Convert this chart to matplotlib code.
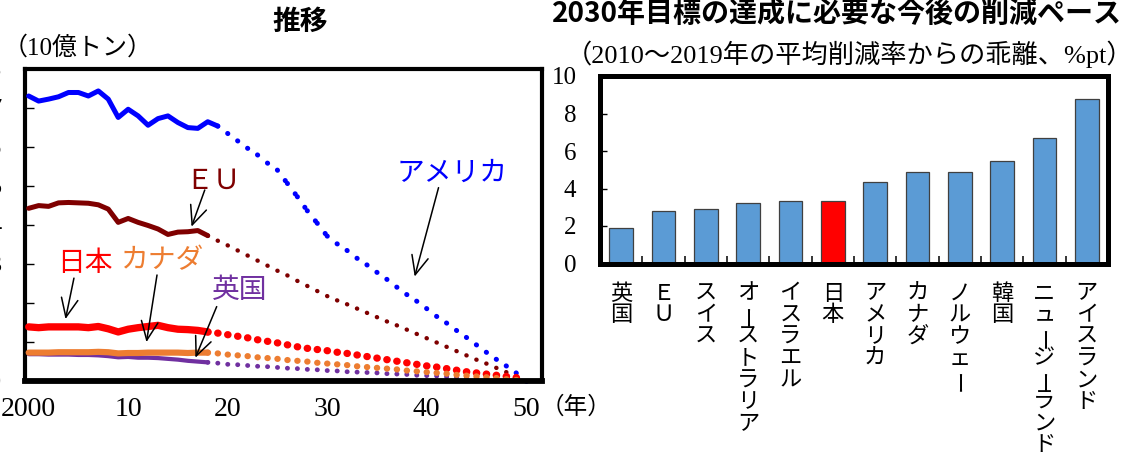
import matplotlib
matplotlib.use("Agg")
import matplotlib.pyplot as plt
from matplotlib import transforms

DPI = 100
JP = ["Noto Sans CJK JP", "DejaVu Sans"]
SERIF_JP = ["Liberation Serif", "Noto Sans CJK JP", "DejaVu Sans"]
plt.rcParams["font.family"] = SERIF_JP

# ---------------- emissions (10億トン) ----------------
hist_years_us = list(range(2000, 2020))
hist_years = list(range(2000, 2019))
proj_years_us = list(range(2019, 2051))
proj_years = list(range(2018, 2051))

us_hist = [7.30, 7.17, 7.22, 7.28, 7.39, 7.39, 7.30, 7.43, 7.22, 6.75,
           6.96, 6.79, 6.55, 6.72, 6.79, 6.62, 6.49, 6.47, 6.64, 6.53]
eu_hist = [4.42, 4.49, 4.47, 4.56, 4.57, 4.56, 4.55, 4.51, 4.40, 4.06,
           4.16, 4.06, 3.98, 3.89, 3.75, 3.81, 3.82, 3.85, 3.72]
jp_hist = [1.38, 1.36, 1.38, 1.38, 1.38, 1.38, 1.36, 1.39, 1.33, 1.25,
           1.32, 1.36, 1.39, 1.42, 1.36, 1.32, 1.31, 1.29, 1.25]
ca_hist = [0.72, 0.72, 0.72, 0.73, 0.73, 0.73, 0.73, 0.74, 0.73, 0.70,
           0.71, 0.71, 0.72, 0.72, 0.72, 0.72, 0.71, 0.72, 0.72]
uk_hist = [0.68, 0.68, 0.67, 0.67, 0.67, 0.66, 0.66, 0.65, 0.63, 0.60,
           0.61, 0.59, 0.59, 0.58, 0.56, 0.54, 0.51, 0.49, 0.47]

us_proj = [6.53, 6.34, 6.15, 5.96, 5.79, 5.58, 5.40, 5.06, 4.72, 4.36,
           4.04, 3.71, 3.51, 3.34, 3.14, 2.97, 2.78, 2.60, 2.40, 2.21,
           2.04, 1.85, 1.65, 1.48, 1.29, 1.11, 0.92, 0.73, 0.55, 0.38,
           0.20, 0.00]
eu_proj = [3.72, 3.59, 3.47, 3.34, 3.21, 3.08, 2.95, 2.82, 2.70, 2.56,
           2.43, 2.30, 2.17, 2.06, 1.96, 1.85, 1.74, 1.63, 1.52, 1.42,
           1.31, 1.20, 1.09, 0.98, 0.87, 0.76, 0.65, 0.54, 0.44, 0.33,
           0.22, 0.12, 0.00]
jp_proj = [1.25, 1.22, 1.18, 1.14, 1.10, 1.05, 1.01, 0.97, 0.92, 0.87,
           0.83, 0.80, 0.77, 0.73, 0.70, 0.66, 0.62, 0.58, 0.54, 0.50,
           0.46, 0.42, 0.38, 0.35, 0.31, 0.27, 0.23, 0.20, 0.17, 0.14,
           0.11, 0.08, 0.00]
ca_proj = [0.72, 0.70, 0.67, 0.65, 0.63, 0.60, 0.58, 0.56, 0.53, 0.51,
           0.49, 0.46, 0.44, 0.42, 0.40, 0.37, 0.35, 0.33, 0.31, 0.29,
           0.26, 0.24, 0.22, 0.20, 0.18, 0.15, 0.13, 0.11, 0.09, 0.07,
           0.04, 0.02, 0.00]
uk_proj = [0.47, 0.45, 0.42, 0.41, 0.39, 0.37, 0.36, 0.34, 0.32, 0.31,
           0.29, 0.28, 0.26, 0.25, 0.23, 0.22, 0.21, 0.20, 0.18, 0.17,
           0.16, 0.14, 0.13, 0.12, 0.10, 0.09, 0.08, 0.06, 0.05, 0.04,
           0.03, 0.01, 0.00]

x_ticks = [2000, 2010, 2020, 2030, 2040, 2050]
x_tick_labels = ["2000", "10", "20", "30", "40", "50"]
y_ticks_left = list(range(0, 9))

# ---------------- required pace (%pt) ----------------
countries = ["英国", "ＥＵ", "スイス", "オーストラリア", "イスラエル", "日本",
             "アメリカ", "カナダ", "ノルウェー", "韓国", "ニュージーランド",
             "アイスランド"]
pace = [1.88, 2.82, 2.91, 3.24, 3.33, 3.33, 4.33, 4.86, 4.88, 5.48, 6.68, 8.77]
y_ticks_right = [0, 2, 4, 6, 8, 10]

C_US, C_EU, C_JP, C_CA, C_UK = "#0000FF", "#7F0000", "#FF0000", "#ED7D31", "#7030A0"
C_BAR, C_BAR_JP = "#5B9BD5", "#FF0000"

W, H = 1122, 459
fig = plt.figure(figsize=(W / DPI, H / DPI), dpi=DPI)


def px_to_pt(px):
    return px * 72.0 / DPI


def dotted(ax, xs, ys, color, dot_px, step_px, z):
    """Round-dot projection drawn segment by segment (pattern restarts each year)."""
    lw = px_to_pt(dot_px)
    on = 0.05
    off = step_px / dot_px - on
    for i in range(len(xs) - 1):
        ax.plot(xs[i:i + 2], ys[i:i + 2], color=color, lw=lw,
                linestyle=(0, (on, off)), dash_capstyle="round", zorder=z)


# ================= left panel =================
ax = fig.add_axes([24.7 / W, 1 - 380.7 / H, 517.3 / W, 312 / H])
ax.set_xlim(1999.6, 2051.6)
ax.set_ylim(0, 8)

dotted(ax, proj_years_us, us_proj, C_US, 5.0, 13.0, 2)
ax.plot(proj_years_us[-1:], us_proj[-1:], "o", ms=px_to_pt(5.0), mew=0,
        color=C_US, zorder=2, clip_on=False)
dotted(ax, proj_years, eu_proj, C_EU, 4.4, 12.5, 2)
dotted(ax, proj_years, uk_proj, C_UK, 4.8, 13.0, 2)
dotted(ax, proj_years, jp_proj, C_JP, 7.3, 13.0, 2)
dotted(ax, proj_years, ca_proj, C_CA, 6.2, 13.0, 2)

solid_kw = dict(solid_capstyle="round", solid_joinstyle="round", zorder=3)
ax.plot(hist_years_us, us_hist, color=C_US, lw=px_to_pt(5.0), **solid_kw)
ax.plot(hist_years, eu_hist, color=C_EU, lw=px_to_pt(5.0), **solid_kw)
ax.plot(hist_years, uk_hist, color=C_UK, lw=px_to_pt(4.2), **solid_kw)
ax.plot(hist_years, jp_hist, color=C_JP, lw=px_to_pt(7.3), **solid_kw)
ax.plot(hist_years, ca_hist, color=C_CA, lw=px_to_pt(6.2), **solid_kw)

ax.set_xticks(x_ticks)
ax.set_xticklabels(x_tick_labels)
ax.set_yticks(y_ticks_left)
ax.tick_params(axis="x", length=0, pad=12, labelsize=20)
ax.tick_params(axis="y", direction="in", length=6.5, width=1.0, pad=16.8,
               labelsize=19)
for side, sp in ax.spines.items():
    sp.set_linewidth(3.0)
    sp.set_color("black")
ax.spines["bottom"].set_linewidth(4.2)

arrow_kw = dict(arrowstyle="->,head_length=1.35,head_width=0.6", lw=1.1,
                color="black", shrinkA=0, shrinkB=0, mutation_scale=10)
labels = [
    ("ＥＵ", C_EU, (2018.5, 5.12), (2017.7, 4.89), (2016.37, 3.95)),
    ("アメリカ", C_US, (2042.6, 5.32), (2041.2, 4.95), (2038.8, 2.67)),
    ("日本", C_JP, (2005.6, 3.02), (2004.55, 2.63), (2003.7, 1.58)),
    ("カナダ", C_CA, (2013.5, 3.09), (2012.9, 2.71), (2011.84, 0.99)),
    ("英国", C_UK, (2021.2, 2.33), (2018.9, 1.90), (2016.76, 0.59)),
]
for text, col, txy, tail, tip in labels:
    ax.text(txy[0], txy[1], text, color=col, fontsize=20, family=JP,
            ha="center", va="center", zorder=5)
    ax.annotate("", xy=tip, xytext=tail, arrowprops=arrow_kw, zorder=5)

fig.text(300 / W, 1 - 21.5 / H, "推移", family=JP, fontweight="bold",
         fontsize=20, ha="center", va="center")
fig.text(77.5 / W, 1 - 48 / H, "（10億トン）", family=SERIF_JP, fontsize=18,
         ha="center", va="center")
fig.text(576 / W, 1 - 408 / H, "（年）", family=SERIF_JP, fontsize=17,
         ha="center", va="center")

# ================= right panel =================
ax2 = fig.add_axes([600 / W, 1 - 263.5 / H, 508 / W, 187.5 / H])
xpos = list(range(len(countries)))
colors = [C_BAR_JP if c == "日本" else C_BAR for c in countries]
ax2.bar(xpos, pace, width=0.56, color=colors, edgecolor="#404040",
        linewidth=0.9, zorder=2)
ax2.set_xlim(-0.5, len(countries) - 0.5)
ax2.set_ylim(0, 10)
ax2.set_yticks(y_ticks_right)
ax2.tick_params(axis="y", direction="in", length=4.7, width=1.0, pad=17,
                labelsize=18)
ax2.set_xticks([])
ax2.set_xticks([i + 0.5 for i in range(len(countries) - 1)], minor=True)
ax2.tick_params(axis="x", which="minor", direction="in", length=5.5,
                width=1.1, labelbottom=False)
for sp in ax2.spines.values():
    sp.set_linewidth(3.6)
    sp.set_color("black")

# vertical (tategaki) category labels; the long-vowel mark is turned upright
first_px, pitch_px = 29.5, 21.7
base_tr = ax2.get_xaxis_transform()
bar_tr = transforms.offset_copy(base_tr, fig=fig, x=1.6, y=0, units="points")
for i, name in enumerate(countries):
    for j, ch in enumerate(name):
        y_ax = -(first_px + pitch_px * j) / 187.5
        is_bar = ch == "ー"
        ax2.text(i, y_ax, ch, transform=bar_tr if is_bar else base_tr,
                 family=JP, fontsize=16, ha="center", va="center",
                 rotation=90 if is_bar else 0, clip_on=False)

fig.text(552 / W, 1 - 14 / H, "2030年目標の達成に必要な今後の削減ペース",
         family=JP, fontweight="bold", fontsize=20.2, ha="left", va="center")
fig.text(850 / W, 1 - 54 / H, "（2010～2019年の平均削減率からの乖離、%pt）",
         family=SERIF_JP, fontsize=18.9, ha="center", va="center")

fig.savefig("out.png", dpi=DPI)
